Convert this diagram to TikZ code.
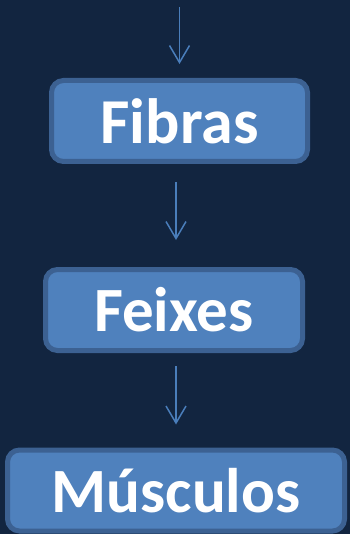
\documentclass[tikz,border=0pt]{standalone}
\usepackage{fontspec}
\setmainfont{Carlito}
\usepackage{xcolor}
\usepackage{tikz}
\usetikzlibrary{arrows.meta,positioning}

\definecolor{navy}{RGB}{18,37,64}
\definecolor{boxfill}{RGB}{79,129,189}
\definecolor{boxline}{RGB}{60,97,146}
\definecolor{arrowblue}{RGB}{74,126,187}

\tikzset{
  stage/.style={draw=boxline, fill=boxfill, line width=5pt, rounded corners=12pt,
    text=white, font=\bfseries, inner sep=0pt, minimum height=81pt},
  flow/.style={draw=arrowblue, line width=1.5pt, -{Straight Barb[length=17pt,width=20pt]}}
}

\begin{document}
\begin{tikzpicture}[x=1pt, y=-1pt]
\fill[navy] (0, 0) rectangle (350, 534);
\useasboundingbox (0, 0) rectangle (350, 534);

\node[stage, minimum width=256pt] (fib) at (179.5, 121) {\fontsize{64}{68}\selectfont Fibras};
\node[stage, minimum width=257pt] (fei) at (174, 310) {\fontsize{63}{68}\selectfont Feixes};
\node[stage, minimum width=337pt] (mus) at (176, 490.5) {\fontsize{63}{68}\selectfont Músculos};

\coordinate (start) at (179.5, 7);

\draw[flow] (start) -- ([yshift=14pt]fib.north);
\draw[flow] ([yshift=-18pt]fib.south -| mus.center) -- ([yshift=27pt]fei.north -| mus.center);
\draw[flow] ([yshift=-13pt]fei.south -| mus.center) -- ([yshift=23pt]mus.north);
\end{tikzpicture}
\end{document}
